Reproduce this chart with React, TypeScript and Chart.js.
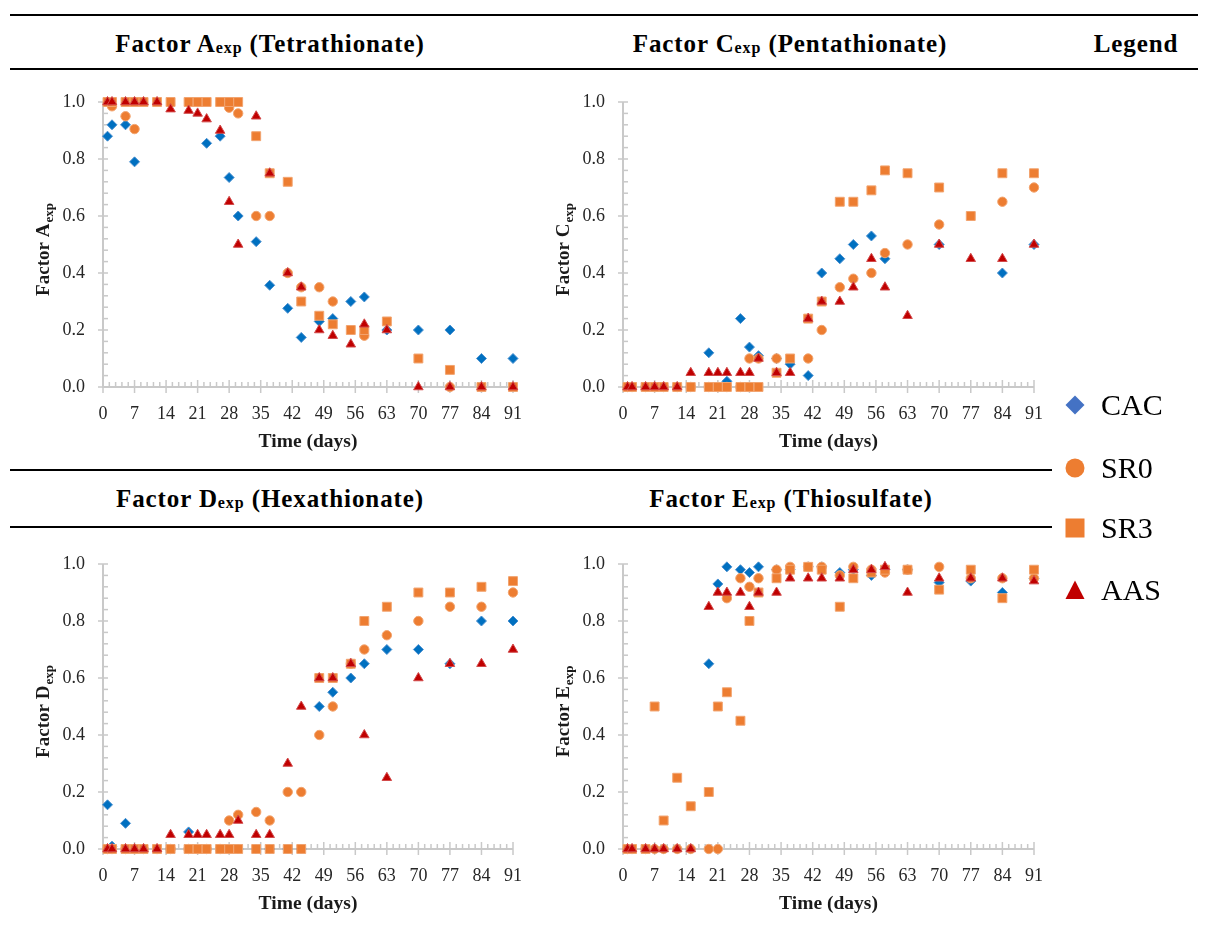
import React, { useEffect, useRef } from 'react';
import { Chart, registerables } from 'chart.js';

Chart.register(...registerables);

const FONT = '"Liberation Serif", "DejaVu Serif", serif';

// ---- data ----
const DAYS = [1, 2, 5, 7, 9, 12, 15, 19, 21, 23, 26, 28, 30, 34, 37, 41, 44, 48, 51, 55, 58, 63, 70, 77, 84, 91];
const X_TICKS = [0, 7, 14, 21, 28, 35, 42, 49, 56, 63, 70, 77, 84, 91];
const Y_TICKS = [0, 0.2, 0.4, 0.6, 0.8, 1.0];
const SERIES = ['CAC', 'SR0', 'SR3', 'AAS'];

// Factor A (Tetrathionate)
const A_CAC = [0.88, 0.92, 0.92, 0.79, null, null, null, null, null, 0.855, 0.88, 0.735, 0.6, 0.51, 0.357, 0.276, 0.174, 0.23, 0.24, 0.3, 0.316, 0.2, 0.2, 0.2, 0.1, 0.1];
const A_SR0 = [null, 0.985, 0.95, 0.905, null, null, null, null, null, null, null, 0.98, 0.96, 0.6, 0.6, 0.4, 0.35, 0.35, 0.3, null, 0.18, null, null, 0.0, null, null];
const A_SR3 = [1, 1, 1, 1, 1, 1, 1, 1, 1, 1, 1, 1, 1, 0.88, 0.75, 0.72, 0.3, 0.25, 0.22, 0.2, 0.2, 0.23, 0.1, 0.06, 0.0, 0.0];
const A_AAS = [1, 1, 1, 1, 1, 1, 0.975, 0.97, 0.96, 0.94, 0.9, 0.65, 0.5, 0.95, 0.75, 0.4, 0.35, 0.2, 0.18, 0.15, 0.22, 0.2, 0.0, 0.0, 0.0, 0.0];

// Factor C (Pentathionate)
const C_CAC = [0, 0, 0, 0, 0, 0, 0, 0.12, 0, 0.02, 0.24, 0.14, 0.11, 0.1, 0.08, 0.04, 0.4, 0.45, 0.5, 0.53, 0.45, null, 0.5, null, 0.4, 0.5];
const C_SR0 = [0, 0, 0, 0, 0, 0, 0, 0, 0, 0, 0, 0.1, 0.1, 0.1, null, 0.1, 0.2, 0.35, 0.38, 0.4, 0.47, 0.5, 0.57, null, 0.65, 0.7];
const C_SR3 = [0, 0, 0, 0, 0, 0, 0, 0, 0, 0, 0, 0, 0, 0.05, 0.1, 0.24, 0.3, 0.65, 0.65, 0.69, 0.76, 0.75, 0.7, 0.6, 0.75, 0.75];
const C_AAS = [0, 0, 0, 0, 0, 0, 0.05, 0.05, 0.05, 0.05, 0.05, 0.05, 0.1, 0.05, 0.05, 0.24, 0.3, 0.3, 0.35, 0.45, 0.35, 0.25, 0.5, 0.45, 0.45, 0.5];

// Factor D (Hexathionate)
const D_CAC = [0.155, 0.01, 0.09, 0, 0, 0, 0, 0.06, 0, 0, 0, 0, 0, 0, 0, 0, 0, 0.5, 0.55, 0.6, 0.65, 0.7, 0.7, 0.65, 0.8, 0.8];
const D_SR0 = [0, 0, 0, 0, 0, 0, 0, 0, 0, 0, 0, 0.1, 0.12, 0.13, 0.1, 0.2, 0.2, 0.4, 0.5, 0.65, 0.7, 0.75, 0.8, 0.85, 0.85, 0.9];
const D_SR3 = [0, 0, 0, 0, 0, 0, 0, 0, 0, 0, 0, 0, 0, 0, 0, 0, 0, 0.6, 0.6, 0.65, 0.8, 0.85, 0.9, 0.9, 0.92, 0.94];
const D_AAS = [0, 0, 0, 0, 0, 0, 0.05, 0.05, 0.05, 0.05, 0.05, 0.05, 0.1, 0.05, 0.05, 0.3, 0.5, 0.6, 0.6, 0.65, 0.4, 0.25, 0.6, 0.65, 0.65, 0.7];

// Factor E (Thiosulfate)
const E_CAC = [0, 0, 0, 0, 0, 0, 0, 0.65, 0.93, 0.99, 0.98, 0.97, 0.99, 0.98, 0.98, 0.99, 0.99, 0.97, 0.98, 0.96, 0.98, 0.98, 0.935, 0.94, 0.9, 0.95];
const E_SR0 = [0, 0, 0, 0, 0, 0, 0, 0, 0, 0.88, 0.95, 0.92, 0.95, 0.98, 0.99, 0.99, 0.99, 0.96, 0.99, 0.98, 0.97, 0.98, 0.99, 0.95, 0.95, 0.95];
const E_SR3 = [0, 0, 0, 0.5, 0.1, 0.25, 0.15, 0.2, 0.5, 0.55, 0.45, 0.8, 0.9, 0.95, 0.98, 0.99, 0.98, 0.85, 0.95, 0.97, 0.98, 0.98, 0.91, 0.98, 0.88, 0.98];
const E_AAS = [0, 0, 0, 0, 0, 0, 0, 0.85, 0.9, 0.9, 0.9, 0.85, 0.9, 0.9, 0.95, 0.95, 0.95, 0.95, 0.98, 0.98, 0.99, 0.9, 0.95, 0.95, 0.95, 0.94];

// ---- styles ----
const FILL = ['#0070C0', '#ED7D31', '#ED7D31', '#C00000'];
const EDGE = ['#4A90D0', '#F2A46F', '#F2A46F', '#D24A4A'];
const SHAPE = ['rectRot', 'circle', 'rect', 'triangle'];
const RADIUS = [5, 4.7, 6.3, 5.5];
const LEGEND_FILL = ['#4472C4', '#ED7D31', '#ED7D31', '#C00000'];
const AXIS_COLOR = '#C9C9C9';

const axesPlugin = {
  id: 'customAxes',
  beforeDatasetsDraw(chart: any) {
    const { ctx, scales } = chart;
    const xs = scales.x;
    const ys = scales.y;
    const x0 = xs.getPixelForValue(0);
    const y0 = ys.getPixelForValue(0);
    ctx.save();
    ctx.strokeStyle = AXIS_COLOR;
    ctx.lineWidth = 1.5;
    for (let i = 0; i <= 25; i++) {
      const py = ys.getPixelForValue(i * 0.04);
      const major = i % 5 === 0;
      ctx.beginPath();
      ctx.moveTo(major ? x0 - 5 : x0, py);
      ctx.lineTo(x0 + 5, py);
      ctx.stroke();
    }
    for (let i = 0; i <= 65; i++) {
      const px = xs.getPixelForValue(i * 1.4);
      const major = i % 5 === 0;
      ctx.beginPath();
      ctx.moveTo(px, y0 - (major ? 7 : 5));
      ctx.lineTo(px, major ? y0 + 6 : y0);
      ctx.stroke();
    }
    ctx.lineWidth = 2;
    ctx.beginPath();
    ctx.moveTo(x0, ys.getPixelForValue(1));
    ctx.lineTo(x0, y0);
    ctx.lineTo(xs.getPixelForValue(91), y0);
    ctx.stroke();
    ctx.restore();
  },
};

const makeTitlesPlugin = (letter: string) => ({
  id: 'customTitles',
  afterDraw(chart: any) {
    const { ctx, chartArea: ca } = chart;
    ctx.save();
    ctx.fillStyle = '#1a1a1a';
    ctx.font = `bold 19.5px ${FONT}`;
    ctx.textAlign = 'center';
    ctx.textBaseline = 'middle';
    ctx.fillText('Time (days)', (ca.left + ca.right) / 2, ca.bottom + 55);

    const main = `Factor ${letter}`;
    const sub = 'exp';
    ctx.font = `bold 19px ${FONT}`;
    const w1 = ctx.measureText(main).width;
    ctx.font = `bold 13px ${FONT}`;
    const w2 = ctx.measureText(sub).width;
    ctx.translate(ca.left - 60, (ca.top + ca.bottom) / 2 + 5);
    ctx.rotate(-Math.PI / 2);
    ctx.textAlign = 'left';
    ctx.textBaseline = 'alphabetic';
    const start = -(w1 + w2 + 1) / 2;
    ctx.font = `bold 19px ${FONT}`;
    ctx.fillText(main, start, 6);
    ctx.font = `bold 13px ${FONT}`;
    ctx.fillText(sub, start + w1 + 1, 10);
    ctx.restore();
  },
});

type PanelProps = {
  letter: string;
  sets: (number | null)[][];
  left: number;
  top: number;
  right: number;
  bottom: number;
};

function Panel({ letter, sets, left, top, right, bottom }: PanelProps) {
  const ref = useRef<HTMLCanvasElement | null>(null);
  const PL = 90;
  const PT = 34;
  const PR = 35;
  const PB = 70;
  const cw = right - left + PL + PR;
  const ch = bottom - top + PT + PB;

  useEffect(() => {
    if (!ref.current) return;
    const chart = new Chart(ref.current, {
      type: 'scatter',
      data: {
        datasets: SERIES.map((name, k) => ({
          label: name,
          data: DAYS.map((d, i) => ({ x: d, y: sets[k][i] })).filter((p) => p.y !== null) as any,
          pointStyle: SHAPE[k] as any,
          pointRadius: RADIUS[k],
          pointHoverRadius: RADIUS[k],
          backgroundColor: FILL[k],
          borderColor: EDGE[k],
          borderWidth: 1,
          order: 3 - k,
          clip: false as any,
        })),
      },
      options: {
        responsive: false,
        animation: false,
        events: [],
        layout: { padding: { left: 0, top: PT, right: PR, bottom: 0 } },
        plugins: { legend: { display: false }, tooltip: { enabled: false } },
        scales: {
          x: {
            type: 'linear',
            min: 0,
            max: 91,
            grid: { display: false, drawTicks: false },
            border: { display: false },
            afterBuildTicks: (s: any) => {
              s.ticks = X_TICKS.map((v) => ({ value: v }));
            },
            afterFit: (s: any) => {
              s.height = PB;
            },
            ticks: {
              padding: 16,
              autoSkip: false,
              maxRotation: 0,
              color: '#262626',
              font: { family: FONT, size: 18 },
            },
          },
          y: {
            type: 'linear',
            min: 0,
            max: 1,
            grid: { display: false, drawTicks: false },
            border: { display: false },
            afterBuildTicks: (s: any) => {
              s.ticks = Y_TICKS.map((v) => ({ value: v }));
            },
            afterFit: (s: any) => {
              s.width = PL;
            },
            ticks: {
              padding: 18,
              color: '#262626',
              font: { family: FONT, size: 18 },
              callback: (v: any) => Number(v).toFixed(1),
            },
          },
        },
      },
      plugins: [axesPlugin, makeTitlesPlugin(letter)],
    });
    return () => chart.destroy();
  }, []);

  return (
    <canvas
      ref={ref}
      width={cw}
      height={ch}
      style={{ position: 'absolute', left: left - PL, top: top - PT, width: cw, height: ch }}
    />
  );
}

function Header({ cx, cy, letter, name }: { cx: number; cy: number; letter?: string; name?: string }) {
  return (
    <div
      style={{
        position: 'absolute',
        left: cx - 250,
        width: 500,
        top: cy - 16,
        height: 32,
        lineHeight: '32px',
        textAlign: 'center',
        font: `bold 25px ${FONT}`,
        letterSpacing: '0.9px',
        color: '#000',
        whiteSpace: 'nowrap',
      }}
    >
      {letter ? (
        <>
          Factor {letter}
          <span style={{ fontSize: 16, verticalAlign: '-1px' }}>exp</span> ({name})
        </>
      ) : (
        name
      )}
    </div>
  );
}

function Rule({ y, x1, x2 }: { y: number; x1: number; x2: number }) {
  return <div style={{ position: 'absolute', left: x1, top: y - 1, width: x2 - x1, height: 2, background: '#000' }} />;
}

function LegendIcon({ k }: { k: number }) {
  const c = LEGEND_FILL[k];
  return (
    <svg width={22} height={22} viewBox="0 0 22 22" style={{ display: 'block' }}>
      {k === 0 && <polygon points="11,1.5 20.5,11 11,20.5 1.5,11" fill={c} />}
      {k === 1 && <circle cx={11} cy={11} r={9.5} fill={c} />}
      {k === 2 && <rect x={1.5} y={1.5} width={19} height={19} fill={c} />}
      {k === 3 && <polygon points="11,1.5 20.5,20 1.5,20" fill={c} />}
    </svg>
  );
}

const LEGEND_Y = [405, 468, 528, 590];

export default function App() {
  return (
    <div style={{ position: 'absolute', left: 0, top: 0, width: 1211, height: 926, background: '#fff', overflow: 'hidden' }}>
      <Rule y={15} x1={10} x2={1198} />
      <Rule y={69} x1={10} x2={1198} />
      <Rule y={470} x1={10} x2={1052} />
      <Rule y={527} x1={10} x2={1052} />

      <Header cx={270} cy={46} letter="A" name="Tetrathionate" />
      <Header cx={790} cy={46} letter="C" name="Pentathionate" />
      <Header cx={1136} cy={46} name="Legend" />
      <Header cx={270} cy={501} letter="D" name="Hexathionate" />
      <Header cx={791} cy={501} letter="E" name="Thiosulfate" />

      <Panel letter="A" sets={[A_CAC, A_SR0, A_SR3, A_AAS]} left={103} top={102} right={513} bottom={387} />
      <Panel letter="C" sets={[C_CAC, C_SR0, C_SR3, C_AAS]} left={623} top={102} right={1034} bottom={387} />
      <Panel letter="D" sets={[D_CAC, D_SR0, D_SR3, D_AAS]} left={103} top={564} right={513} bottom={849} />
      <Panel letter="E" sets={[E_CAC, E_SR0, E_SR3, E_AAS]} left={623} top={564} right={1034} bottom={849} />

      {SERIES.map((name, k) => (
        <div key={name} style={{ position: 'absolute', left: 1064, top: LEGEND_Y[k] - 18, height: 36, display: 'flex', alignItems: 'center' }}>
          <LegendIcon k={k} />
          <span style={{ marginLeft: 15, font: `30px ${FONT}`, color: '#000', lineHeight: '36px' }}>{name}</span>
        </div>
      ))}
    </div>
  );
}
